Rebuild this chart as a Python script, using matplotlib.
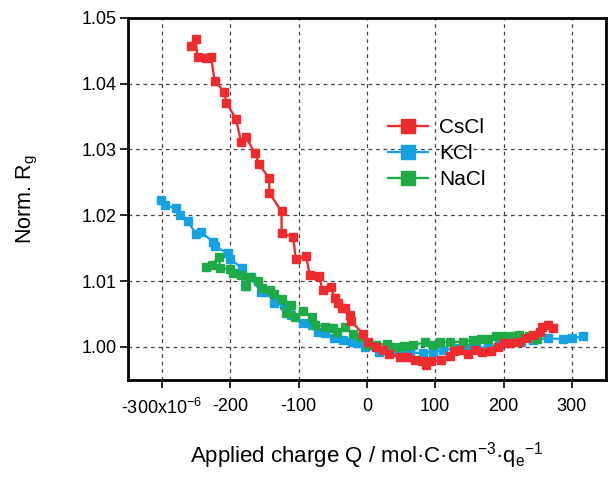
import matplotlib
matplotlib.use('Agg')
import matplotlib.pyplot as plt

plt.rcParams['font.family'] = ['Liberation Sans', 'DejaVu Sans']
plt.rcParams['mathtext.default'] = 'regular'

# CsCl
cs_q = [-257, -251, -248, -236, -228, -223, -209, -206, -192, -184, -177, -164, -158,
        -143, -143, -125, -125, -108, -104, -89, -84, -70, -65, -53, -47, -42, -37, -32,
        -25, -23, -6, 2, 14, 24, 33, 48, 58, 70, 80, 87, 94, 109, 121, 128, 135, 148,
        158, 169, 181, 192, 200, 210, 223, 233, 243, 254, 257, 265, 273]
cs_r = [1.0457, 1.0468, 1.0440, 1.0439, 1.0440, 1.0404, 1.0388, 1.0371, 1.0347, 1.0311,
        1.0319, 1.0294, 1.0278, 1.0256, 1.0234, 1.0206, 1.0173, 1.0167, 1.0133, 1.0138,
        1.0110, 1.0107, 1.0087, 1.0091, 1.0074, 1.0067, 1.0059, 1.0059, 1.0049, 1.0039,
        1.0020, 1.0008, 1.0000, 0.9995, 0.9989, 0.9985, 0.9984, 0.9980, 0.9979, 0.9973,
        0.9978, 0.9980, 0.9986, 0.9994, 0.9995, 0.9989, 0.9995, 0.9993, 0.9994, 1.0000,
        1.0006, 1.0006, 1.0008, 1.0013, 1.0018, 1.0023, 1.0031, 1.0034, 1.0028]

# KCl
k_q = [-301, -295, -279, -274, -262, -250, -243, -225, -222, -204, -201, -183, -178,
       -170, -155, -146, -136, -122, -111, -94, -81, -71, -61, -48, -35, -22, -13, -3,
       17, 29, 43, 63, 82, 97, 111, 131, 146, 160, 177, 194, 209, 226, 243, 265, 287,
       301, 316]
k_r = [1.0223, 1.0215, 1.0211, 1.0201, 1.0191, 1.0171, 1.0174, 1.0160, 1.0153, 1.0142,
       1.0134, 1.0120, 1.0093, 1.0106, 1.0083, 1.0084, 1.0066, 1.0063, 1.0049, 1.0036,
       1.0034, 1.0023, 1.0021, 1.0014, 1.0011, 1.0007, 1.0006, 1.0000, 0.9993, 0.9995,
       0.9993, 0.9991, 0.9991, 0.9993, 0.9995, 0.9998, 0.9998, 0.9998, 1.0000, 1.0003,
       1.0006, 1.0008, 1.0011, 1.0013, 1.0012, 1.0013, 1.0016]

# NaCl
na_q = [-235, -227, -217, -215, -200, -196, -185, -177, -171, -159, -154, -142, -136,
        -125, -119, -111, -105, -93, -81, -76, -61, -49, -44, -32, -20, -10, 2, 14, 29,
        41, 55, 68, 85, 97, 107, 121, 141, 155, 167, 177, 189, 201, 214, 223, 238, 249]
na_r = [1.0121, 1.0125, 1.0137, 1.0120, 1.0118, 1.0113, 1.0110, 1.0093, 1.0106, 1.0100,
        1.0089, 1.0087, 1.0081, 1.0073, 1.0051, 1.0064, 1.0046, 1.0054, 1.0045, 1.0034,
        1.0031, 1.0028, 1.0022, 1.0031, 1.0019, 1.0015, 1.0003, 1.0003, 1.0005, 1.0000,
        1.0002, 1.0003, 1.0007, 1.0003, 1.0008, 1.0007, 1.0008, 1.0010, 1.0012, 1.0012,
        1.0016, 1.0017, 1.0017, 1.0018, 1.0017, 1.0012]

xticks = [-300, -200, -100, 0, 100, 200, 300]
xlabels = ['-300x10$^{-6}$', '-200', '-100', '0', '100', '200', '300']
yticks = [1.00, 1.01, 1.02, 1.03, 1.04, 1.05]
ylabels = ['1.00', '1.01', '1.02', '1.03', '1.04', '1.05']

fig = plt.figure(figsize=(6.09, 4.82), dpi=100)
ax = fig.add_axes([0.210, 0.212, 0.785, 0.751])

ax.plot(cs_q, cs_r, '-s', color='#ee2b2e', lw=1.7, ms=5.2, label='CsCl', zorder=3)
ax.plot(k_q, k_r, '-s', color='#16a2e2', lw=1.7, ms=5.2, label='KCl', zorder=2)
ax.plot(na_q, na_r, '-s', color='#1faa48', lw=1.7, ms=5.2, label='NaCl', zorder=2)

ax.set_xlim(-350, 350)
ax.set_ylim(0.995, 1.05)
ax.set_xticks(xticks)
ax.set_xticklabels(xlabels)
ax.set_yticks(yticks)
ax.set_yticklabels(ylabels)
ax.grid(True, ls=(0, (3, 3)), color='#444444', lw=0.9)
ax.tick_params(direction='out', length=6, width=1.2, labelsize=13, color='black')
ax.tick_params(axis='x', pad=7)
ax.tick_params(axis='y', pad=2)
for s in ax.spines.values():
    s.set_linewidth(2)

ax.set_xlabel('Applied charge Q / mol·C·cm$^{-3}$·q$_e$$^{-1}$', fontsize=16, labelpad=16)
ax.set_ylabel('Norm. R$_g$', fontsize=15.5, labelpad=30)

ax.legend(loc='upper left', bbox_to_anchor=(0.527, 0.745), frameon=False, fontsize=15,
          handlelength=1.9, labelspacing=0.32, handletextpad=0.55, borderaxespad=0,
          markerscale=2.0)

fig.savefig('out.png', dpi=100)
